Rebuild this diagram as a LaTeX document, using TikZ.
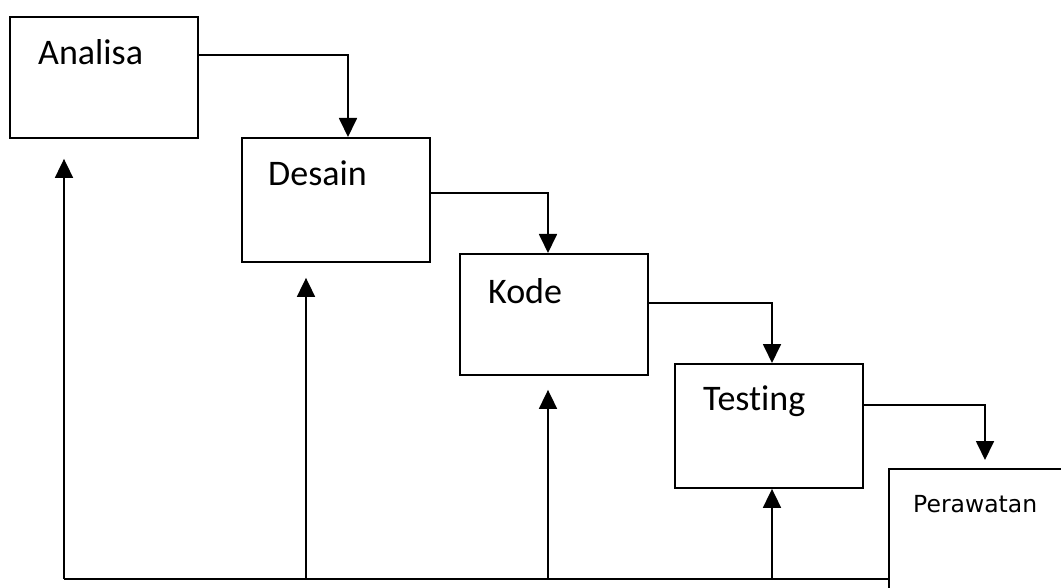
\documentclass[tikz,border=0pt]{standalone}
\usepackage{fontspec}
\setmainfont{Carlito}[Ligatures=NoCommon]
\newfontfamily\smallfont{DejaVu Sans}
\usetikzlibrary{arrows.meta}
\begin{document}
\begin{tikzpicture}[x=1pt,y=-1pt,
  box/.style={draw, line width=1.9pt, rectangle, inner sep=0pt, anchor=north west},
  lbl/.style={inner sep=0pt, anchor=base west, font=\fontsize{36}{40}\selectfont},
  arr/.style={line width=1.8pt, -{Triangle[length=19pt,width=18pt]}},
  ln/.style={line width=1.8pt}]
\useasboundingbox (0,0) rectangle (1061,588);
\clip (0,0) rectangle (1061,588);
\fill[white] (0,0) rectangle (1061,588);
% boxes
\node[box, minimum width=188pt, minimum height=121pt] (analisa) at (9,16) {};
\node[box, minimum width=188pt, minimum height=124pt] (desain) at (241,137) {};
\node[box, minimum width=188pt, minimum height=121pt] (kode) at (459,253) {};
\node[box, minimum width=188pt, minimum height=124pt] (testing) at (674,363) {};
\node[box, minimum width=220pt, minimum height=160pt] (perawatan) at (888,468) {};
% labels
\node[lbl] (tA) at (38,65) {Analisa};
\node[lbl] (tD) at (268,186) {Desain};
\node[lbl] (tK) at (488,304) {Kode};
\node[lbl] (tT) at (703,410) {Testing};
\node[inner sep=0pt, anchor=base west, font=\smallfont\fontsize{23.5}{27}\selectfont] (tP) at (913,512) {Perawatan};
% forward connectors
\coordinate (c1) at (348,55);
\coordinate (c2) at (548,193);
\coordinate (c3) at (772,303);
\coordinate (c4) at (985,405);
\draw[arr] (analisa.east |- c1) -- (c1) -- (c1 |- desain.north);
\draw[arr] (desain.east |- c2) -- (c2) -- (c2 |- kode.north);
\draw[arr] (kode.east |- c3) -- (c3) -- (c3 |- testing.north);
\draw[arr] (testing.east |- c4) -- (c4) -- ([yshift=8pt]c4 |- perawatan.north);
% feedback
\coordinate (b1) at (64,579);
\coordinate (b2) at (306,579);
\coordinate (b3) at (548,579);
\coordinate (b4) at (772,579);
\draw[ln] (b1) -- (b1 -| perawatan.west);
\draw[arr] (b1) -- ([yshift=-20pt]b1 |- analisa.south);
\draw[arr] (b2) -- ([yshift=-15pt]b2 |- desain.south);
\draw[arr] (b3) -- ([yshift=-14pt]b3 |- kode.south);
\draw[arr] (b4) -- (b4 |- testing.south);
\end{tikzpicture}
\end{document}
